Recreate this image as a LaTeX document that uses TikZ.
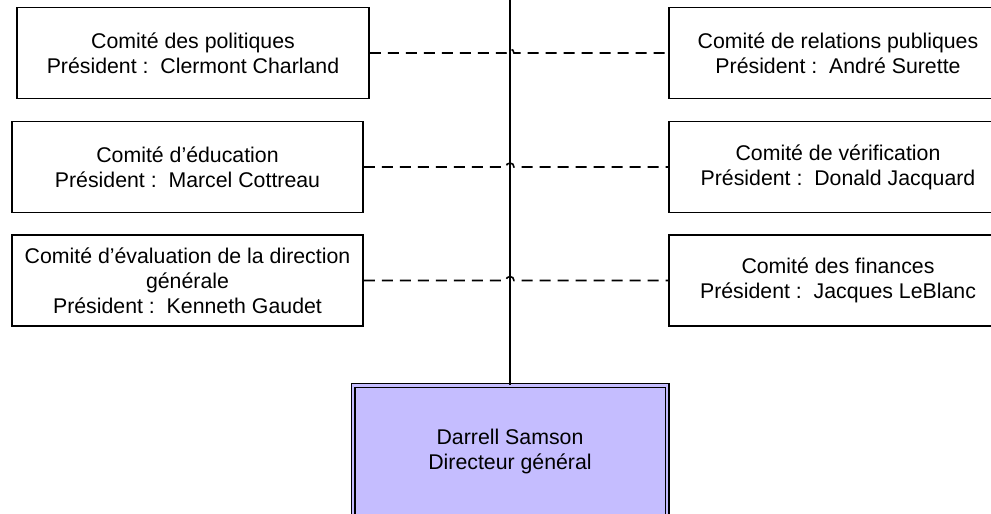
\documentclass[tikz,border=0pt]{standalone}
\usepackage{fontspec}
\setmainfont{Liberation Sans}
\usetikzlibrary{calc}
\definecolor{lavande}{RGB}{197,189,255}
\newcommand{\boxfont}{\fontsize{21.3pt}{25pt}\selectfont}
\tikzset{comite/.style = {draw, line width = 1.5pt, minimum height = 91pt, inner sep = 0pt, align = center, font = \boxfont}}
\tikzset{lien/.style = {line width = 1.6pt, dash pattern = on 11pt off 7pt}}
\tikzset{dg/.style = {draw, fill = lavande, double = lavande, double distance = 2.4pt, line width = 1.3pt, minimum width = 314pt, minimum height = 131pt, inner sep = 0pt, align = center, font = \boxfont}}

\begin{document}
\begin{tikzpicture}[x=1pt, y=-1pt]
      \clip (0, 0) rectangle (991, 514);

      \node [comite, minimum width = 352pt] (l1) at (193, 53) {Comité des politiques\\Président :\ \ Clermont Charland};
      \node [comite, minimum width = 351pt] (l2) at (187.5, 167) {Comité d’éducation\\Président :\ \ Marcel Cottreau};
      \node [comite, minimum width = 351pt] (l3) at (187.5, 280.5) {Comité d’évaluation de la direction\\générale\\Président :\ \ Kenneth Gaudet};

      \node [comite, minimum width = 338pt] (r1) at (838, 53) {Comité de relations publiques\\Président :\ \ André Surette};
      \node [comite, minimum width = 338pt] (r2) at (838, 167) {Comité de vérification\\Président :\ \ Donald Jacquard};
      \node [comite, minimum width = 338pt] (r3) at (838, 280.5) {Comité des finances\\Président :\ \ Jacques LeBlanc};

      \node [dg] (dg) at (510, 451) {Darrell Samson\\Directeur général};

      \coordinate (tronc) at (510, 0);
      \draw [line width = 1.6pt] (tronc) -- (dg.north);

      \foreach \i in {1,2,3} {
        \draw [lien] (l\i.east) -- ($(l\i.east -| tronc) + (-4, 0)$)
          arc [start angle = 180, end angle = 0, radius = 4pt] -- (r\i.west);
      }
    \end{tikzpicture}
\end{document}
